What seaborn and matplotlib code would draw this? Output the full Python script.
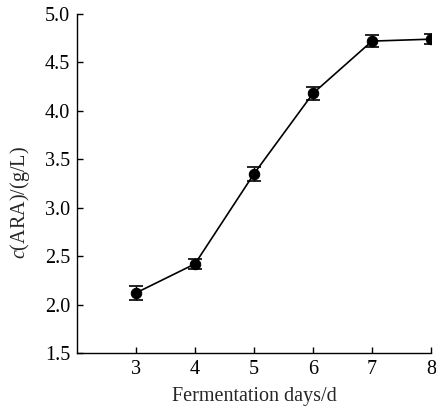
import matplotlib
matplotlib.use("Agg")
import matplotlib.pyplot as plt
import seaborn as sns
import pandas as pd

days = [3, 4, 5, 6, 7, 8]
ara = [2.12, 2.42, 3.35, 4.18, 4.72, 4.74]
err = [0.07, 0.05, 0.07, 0.07, 0.06, 0.05]
x_ticks = [3, 4, 5, 6, 7, 8]
y_ticks = [1.5, 2.0, 2.5, 3.0, 3.5, 4.0, 4.5, 5.0]

sns.set_style("ticks")
plt.rcParams['font.family'] = ['Liberation Serif', 'DejaVu Serif']
plt.rcParams['mathtext.fontset'] = 'custom'
plt.rcParams['mathtext.rm'] = 'Liberation Serif'
plt.rcParams['mathtext.it'] = 'Liberation Serif:italic'

df = pd.DataFrame({"day": days, "ara": ara, "err": err})

fig = plt.figure(figsize=(4.36, 4.09), dpi=100)
ax = fig.add_axes([0.1766, 0.137, 0.8119, 0.8288])

ax.errorbar(df["day"], df["ara"], yerr=df["err"], fmt="none", ecolor="black",
            elinewidth=1.0, capsize=5, capthick=1.2, zorder=2)
sns.lineplot(data=df, x="day", y="ara", ax=ax, color="black", linewidth=1.2,
             marker="o", markersize=7.5, markeredgecolor="black",
             markerfacecolor="black", zorder=3)

ax.set_xlim(2, 8)
ax.set_ylim(1.5, 5.0)
ax.set_xticks(x_ticks)
ax.set_yticks(y_ticks)
ax.set_yticklabels([f"{v:.1f}" for v in y_ticks])
ax.tick_params(direction="in", length=4, width=1, labelsize=14.5, colors="black", pad=5)
for s in ["top", "right"]:
    ax.spines[s].set_visible(False)
for s in ["left", "bottom"]:
    ax.spines[s].set_linewidth(1.0)
    ax.spines[s].set_color("black")

ax.set_xlabel("Fermentation days/d", fontsize=14.5, labelpad=6)
ax.set_ylabel(r"$\mathit{c}$(ARA)/(g/L)", fontsize=14.5)
ax.yaxis.set_label_coords(-0.128, 0.445)

fig.savefig("out.png", dpi=100)
